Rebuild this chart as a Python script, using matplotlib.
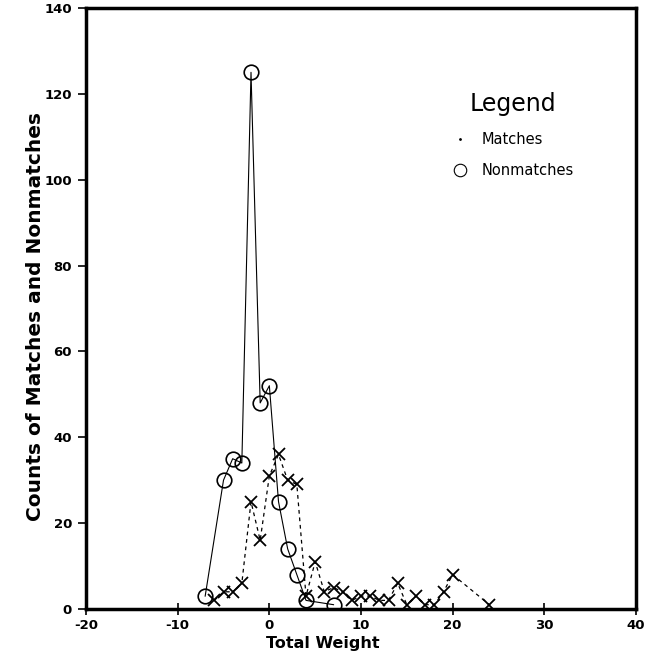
import numpy as np
import matplotlib.pyplot as plt
from matplotlib.lines import Line2D

# Nonmatches (circles)
non_x = [-7, -5, -4, -3, -2, -1, 0, 1, 2, 3, 4, 7]
non_y = [3, 30, 35, 34, 125, 48, 52, 25, 14, 8, 2, 1]

# Matches (crosses)
mat_x = [-6, -5, -4, -3, -2, -1, 0, 1, 2, 3, 4, 5, 6, 7, 8, 9, 10, 11, 12, 13,
         14, 15, 16, 17, 18, 19, 20, 24]
mat_y = [2, 4, 4, 6, 25, 16, 31, 36, 30, 29, 3, 11, 4, 5, 4, 2, 3, 3, 2, 2,
         6, 1, 3, 1, 1, 4, 8, 1]

xticks = [-20, -10, 0, 10, 20, 30, 40]
yticks = [0, 20, 40, 60, 80, 100, 120, 140]

plt.rcParams['font.family'] = ['DejaVu Sans']
plt.rcParams['axes.unicode_minus'] = False

fig = plt.figure(figsize=(6.58, 6.61), dpi=100)
ax = fig.add_axes([0.1307, 0.0787, 0.8359, 0.9093])

ax.plot(non_x, non_y, color='black', lw=0.8, ls='-',
        marker='o', ms=10.5, mfc='none', mec='black', mew=1.2)
ax.plot(mat_x, mat_y, color='black', lw=0.9, ls=(0, (3, 3)),
        marker='x', ms=8, mec='black', mew=1.3)

ax.set_xlim(-20, 40)
ax.set_ylim(0, 140)
ax.set_xticks(xticks)
ax.set_yticks(yticks)
for lab in ax.get_xticklabels() + ax.get_yticklabels():
    lab.set_fontweight('bold')
    lab.set_fontsize(9.5)

ax.tick_params(axis='y', direction='out', length=6, width=1.2, pad=4)
ax.tick_params(axis='x', direction='inout', length=8, width=1.2, pad=3)
for s in ax.spines.values():
    s.set_linewidth(2.5)

ax.set_xlabel('Total Weight', fontsize=11.5, fontweight='bold', labelpad=0)
ax.xaxis.set_label_coords(0.43, -0.045)
ax.set_ylabel('Counts of Matches and Nonmatches', fontsize=14.5, fontweight='bold')
ax.yaxis.set_label_coords(-0.075, 0.486)

handles = [
    Line2D([], [], ls='none', marker='.', ms=2, color='black', label='Matches'),
    Line2D([], [], ls='none', marker='o', ms=9, mfc='none', mec='black',
           mew=0.8, label='Nonmatches'),
]
leg = ax.legend(handles=handles, title='Legend', frameon=False, fontsize=10.5,
                title_fontsize=17, loc='upper left',
                bbox_to_anchor=(0.656, 0.87), handlelength=1.0,
                handletextpad=1.0, labelspacing=1.1, borderaxespad=0)

fig.savefig('out.png', dpi=100)
